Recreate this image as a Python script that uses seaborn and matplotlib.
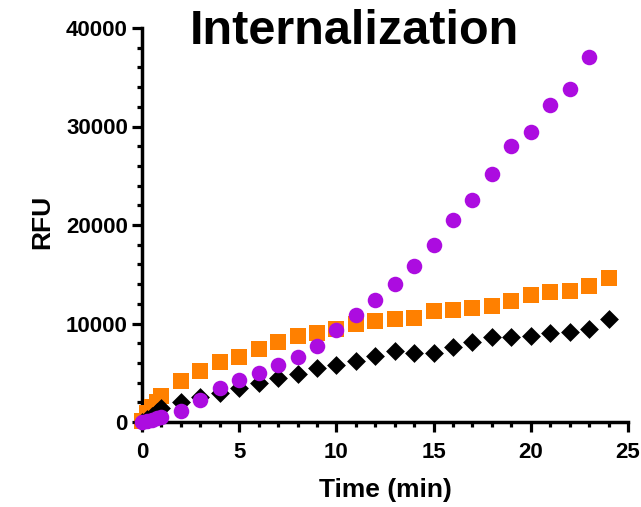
import matplotlib
matplotlib.use("Agg")
import matplotlib.pyplot as plt
import seaborn as sns
import numpy as np
import pandas as pd
from matplotlib.ticker import MultipleLocator

sns.set_style("ticks")
plt.rcParams['font.family'] = ['Liberation Sans', 'DejaVu Sans']
plt.rcParams.update({"text.color": "black", "axes.labelcolor": "black",
                     "xtick.color": "black", "ytick.color": "black"})

time_orange = [0, 0.25, 0.5, 0.75, 1, 2, 3, 4, 5, 6, 7, 8, 9, 10, 11, 12, 13, 14, 15, 16, 17, 18, 19, 20, 21, 22, 23, 24]
orange_vals = [100, 900, 1500, 2000, 2600, 4190, 5210, 6120, 6630, 7380, 8120, 8700, 9060, 9410, 9950, 10250, 10490, 10560,
               11270, 11370, 11570, 11800, 12280, 12890, 13160, 13300, 13800, 14580]

time_black = [0, 0.25, 0.5, 0.75, 1, 2, 3, 4, 5, 6, 7, 8, 9, 10, 11, 12, 13, 14, 15, 16, 17, 18, 19, 20, 21, 22, 23, 24]
black_vals = [0, 300, 600, 1000, 1420, 2060, 2570, 2910, 3420, 3930, 4430, 4920, 5480, 5790, 6220, 6700, 7240, 7040,
              7040, 7580, 8090, 8660, 8590, 8760, 9000, 9170, 9440, 10420]

time_purple = [0, 0.25, 0.5, 0.75, 1, 2, 3, 4, 5, 6, 7, 8, 9, 10, 11, 12, 13, 14, 15, 16, 17, 18, 19, 20, 21, 22, 23]
purple_vals = [0, 100, 250, 400, 550, 1100, 2200, 3420, 4260, 5010, 5790, 6580, 7710, 9340, 10890, 12350, 14000, 15860,
               18000, 20500, 22530, 25200, 28010, 29470, 32170, 33800, 37100]

fig = plt.figure(figsize=(6.41, 5.07), dpi=100)
W, H = 641, 507
ax = fig.add_axes([142 / W, (H - 422) / H, (628 - 142) / W, (422 - 28) / H])

df_o = pd.DataFrame({"t": time_orange, "v": orange_vals})
df_b = pd.DataFrame({"t": time_black, "v": black_vals})
df_p = pd.DataFrame({"t": time_purple, "v": purple_vals})

sns.scatterplot(data=df_o, x="t", y="v", ax=ax, marker="s", color="#FF8000", s=128, linewidth=0, clip_on=False, zorder=3)
sns.scatterplot(data=df_b, x="t", y="v", ax=ax, marker="D", color="black", s=92, linewidth=0, clip_on=False, zorder=4)
sns.scatterplot(data=df_p, x="t", y="v", ax=ax, marker="o", color="#AC0CE0", s=125, linewidth=0, clip_on=False, zorder=5)

ax.set_xlim(0, 25)
ax.set_ylim(0, 40000)
ax.xaxis.set_major_locator(MultipleLocator(5))
ax.xaxis.set_minor_locator(MultipleLocator(1))
ax.yaxis.set_major_locator(MultipleLocator(10000))
ax.yaxis.set_minor_locator(MultipleLocator(2000))

for s in ["top", "right"]:
    ax.spines[s].set_visible(False)
for s in ["left", "bottom"]:
    ax.spines[s].set_linewidth(2.5)
    ax.spines[s].set_color("black")

ax.tick_params(which="major", length=7.2, width=2.3, color="black", labelcolor="black", labelsize=16)
ax.tick_params(axis="x", which="major", pad=7)
ax.tick_params(axis="y", which="major", pad=3)
ax.tick_params(which="minor", length=3.6, width=2.3, color="black")
for lab in ax.get_xticklabels() + ax.get_yticklabels():
    lab.set_fontweight("bold")

ax.set_xlabel("Time (min)", fontsize=19, fontweight="bold", va="center", color="black")
ax.xaxis.set_label_coords(0.5, (422 - 490) / 394)
ax.set_ylabel("RFU", fontsize=19, fontweight="bold", va="center", color="black")
ax.yaxis.set_label_coords((42 - 142) / 486, (422 - 222) / 394)
fig.text(354 / W, 1 - 31 / H, "Internalization", ha="center", va="center", fontsize=35, fontweight="bold", color="black")

fig.savefig("out.png", dpi=100)
